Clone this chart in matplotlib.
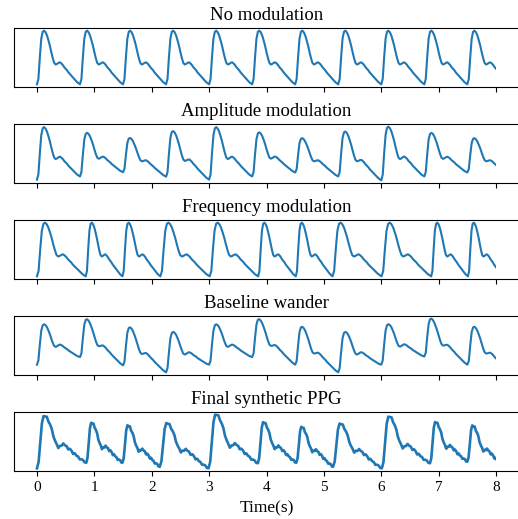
"""Synthetic PPG panels: clean pulse train and its modulated versions."""

import numpy as np
import matplotlib
matplotlib.use("Agg")
import matplotlib.pyplot as plt
from matplotlib.patches import Rectangle

plt.rcParams["font.family"] = ["Liberation Serif", "DejaVu Serif"]

# one pulse: time inside a 0.75 s beat -> level
BEAT_T = [0.000, 0.025, 0.050, 0.075, 0.100, 0.125, 0.150, 0.175, 0.200, 0.225,
          0.250, 0.275, 0.300, 0.325, 0.350, 0.375, 0.400, 0.425, 0.450, 0.475,
          0.500, 0.525, 0.550, 0.575, 0.600, 0.625, 0.650, 0.675, 0.700, 0.725,
          0.750]
BEAT_V = [0.00, 0.10, 0.50, 0.85, 0.98, 1.00, 0.97, 0.91, 0.82, 0.72,
          0.60, 0.49, 0.40, 0.37, 0.38, 0.40, 0.41, 0.39, 0.36, 0.32,
          0.29, 0.26, 0.22, 0.19, 0.16, 0.13, 0.10, 0.07, 0.04, 0.02,
          0.00]
# tremor seen on the final trace, one value per beat sample
NOISE = [0.00, 0.02, -0.01, 0.02, 0.03, 0.00, 0.02, -0.02, 0.01, 0.02,
         -0.01, 0.01, 0.03, -0.02, 0.01, -0.01, 0.02, 0.00, 0.01, -0.02,
         0.02, 0.01, -0.02, 0.02, 0.00, 0.01, -0.02, 0.01, 0.02, -0.01,
         0.00]

# beat onsets (last entry = start of the beat after 8 s), trough levels, pulse heights
ONSET_PLAIN = [0, 0.75, 1.5, 2.25, 3.0, 3.75, 4.5, 5.25, 6.0, 6.75, 7.5, 8.25]
BASE_PLAIN = [0, 0, 0, 0, 0, 0, 0, 0, 0, 0, 0, 0]
AMP_PLAIN = [1, 1, 1, 1, 1, 1, 1, 1, 1, 1, 1]

BASE_AM = [0, 0.06, 0.14, 0.055, 0, 0.06, 0.135, 0.06, -0.013, 0.06, 0.135, 0.06]
AMP_AM = [0.98, 0.81, 0.66, 0.87, 0.98, 0.82, 0.66, 0.86, 1.0, 0.81, 0.66]

ONSET_FM = [0, 0.85, 1.49, 2.15, 3.01, 3.855, 4.51, 5.15, 6.005, 6.87, 7.51, 8.13]

BASE_BW = [0, 0.195, -0.018, -0.195, 0, 0.195, 0, -0.195, 0, 0.21, 0, -0.195]

ONSET_FINAL = [0, 0.86, 1.49, 2.14, 2.99, 3.85, 4.52, 5.16, 6.01, 6.85, 7.50, 8.14]
BASE_FINAL = [0, 0.11, 0.11, 0.03, 0, 0.10, 0.11, 0.03, 0, 0.10, 0.13, 0.03]
AMP_FINAL = [1.0, 0.77, 0.73, 0.85, 1.03, 0.79, 0.70, 0.84, 0.99, 0.79, 0.71]

TITLES = ["No modulation", "Amplitude modulation", "Frequency modulation",
          "Baseline wander", "Final synthetic PPG"]


def pulse_train(onsets, bases, amps, noise=None):
    """Lay the read pulse into each beat, stretched to its length."""
    frac = np.array(BEAT_T) / BEAT_T[-1]
    shape = np.array(BEAT_V)
    ts, vs = [], []
    for i in range(len(amps)):
        t = onsets[i] + frac * (onsets[i + 1] - onsets[i])
        v = bases[i] + (bases[i + 1] - bases[i]) * frac + amps[i] * shape
        if noise is not None:
            v = v + np.array(noise)
        if i > 0:
            t, v = t[1:], v[1:]
        ts.append(t)
        vs.append(v)
    return np.concatenate(ts), np.concatenate(vs)


traces = [
    pulse_train(ONSET_PLAIN, BASE_PLAIN, AMP_PLAIN),
    pulse_train(ONSET_PLAIN, BASE_AM, AMP_AM),
    pulse_train(ONSET_FM, BASE_PLAIN, AMP_PLAIN),
    pulse_train(ONSET_PLAIN, BASE_BW, AMP_PLAIN),
    pulse_train(ONSET_FINAL, BASE_FINAL, AMP_FINAL, NOISE),
]

W, H = 518, 519
fig = plt.figure(figsize=(W / 100, H / 100), dpi=100)

tops = [28, 124, 220, 316, 412]
for k, (top, title, (t, v)) in enumerate(zip(tops, TITLES, traces)):
    ax = fig.add_axes([14 / W, (H - top - 59) / H, 505 / W, 59 / H])
    lw = 1.9 if k == 4 else 1.5
    line, = ax.plot(t, v, color="#1f77b4", linewidth=lw)
    line.set_clip_path(Rectangle((-1, -10), 9, 20, transform=ax.transData))
    ax.set_xlim(-0.4, 8.4)
    ax.set_xticks(range(9))
    ax.set_yticks([])
    ax.set_title(title, fontsize=13.5)
    if k < 4:
        ax.set_xticklabels([])
    else:
        ax.tick_params(axis="x", labelsize=11)
        ax.set_xlabel("Time(s)", fontsize=12.5, labelpad=5)

fig.savefig("out.png", dpi=100)
